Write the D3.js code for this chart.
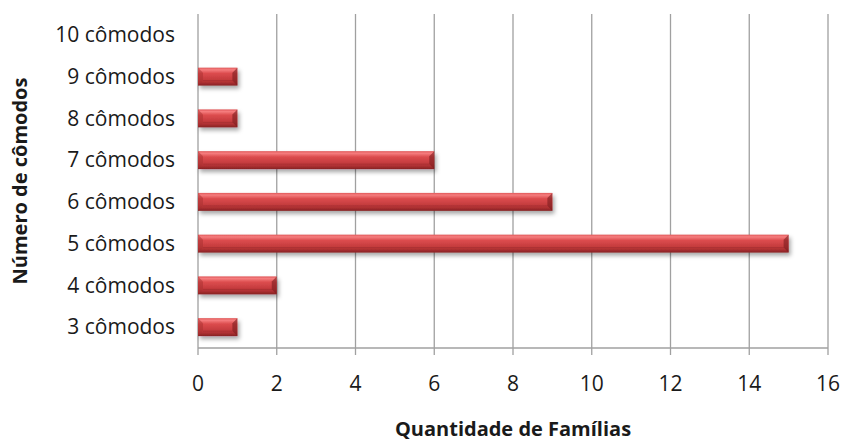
<!DOCTYPE html>
<html>
<head>
<meta charset="utf-8">
<script src="https://cdn.jsdelivr.net/npm/d3@7"></script>
<style>
  html, body { margin: 0; padding: 0; background: #fff; }
  svg { display: block; }
  text { font-family: "Open Sans", Lato, sans-serif; fill: #1a1a1a; }
</style>
</head>
<body>
<svg id="chart" width="842" height="443"></svg>
<script>
// Número de cômodos por família
const categories = ["10 cômodos", "9 cômodos", "8 cômodos", "7 cômodos", "6 cômodos", "5 cômodos", "4 cômodos", "3 cômodos"];
const values = [0, 1, 1, 6, 9, 15, 2, 1];
const xTicks = [0, 2, 4, 6, 8, 10, 12, 14, 16];
const xTitle = "Quantidade de Famílias";
const yTitle = "Número de cômodos";

const svg = d3.select("#chart");
const margin = { left: 198, right: 14, top: 14, bottom: 95 };
const W = 842, H = 443;

const x = d3.scaleLinear().domain([0, 16]).range([margin.left, W - margin.right]);
const y = d3.scaleBand().domain(categories).range([margin.top, H - margin.bottom]).paddingInner(0.57).paddingOuter(0.285);

const defs = svg.append("defs");
const grad = defs.append("linearGradient").attr("id", "barGrad").attr("x1", 0).attr("y1", 0).attr("x2", 0).attr("y2", 1);
[[0, "#e0585a"], [0.12, "#f57d7e"], [0.32, "#dc4c4e"], [0.7, "#c23a3c"], [0.85, "#a82e30"], [1, "#862224"]]
  .forEach(([o, c]) => grad.append("stop").attr("offset", o).attr("stop-color", c));
const shadow = defs.append("filter").attr("id", "shadow").attr("x", "-10%").attr("y", "-50%").attr("width", "130%").attr("height", "250%");
shadow.append("feDropShadow").attr("dx", 2).attr("dy", 3).attr("stdDeviation", 2.2).attr("flood-color", "#000").attr("flood-opacity", 0.35);

// vertical gridlines with tick marks below the axis
const grid = svg.append("g");
grid.selectAll("line").data(xTicks).join("line")
  .attr("x1", d => x(d)).attr("x2", d => x(d))
  .attr("y1", margin.top).attr("y2", H - margin.bottom + 7)
  .attr("stroke", "#a0a0a0").attr("stroke-width", 1.3);

// value axis line
svg.append("line").attr("x1", x(0)).attr("x2", x(16))
  .attr("y1", H - margin.bottom).attr("y2", H - margin.bottom)
  .attr("stroke", "#a0a0a0").attr("stroke-width", 1.3);

// bars
const bars = svg.append("g").selectAll("g").data(categories.map((c, i) => ({ c, v: values[i] })).filter(d => d.v > 0)).join("g");
const bh = y.bandwidth();
bars.append("rect")
  .attr("x", x(0)).attr("y", d => y(d.c))
  .attr("width", d => x(d.v) - x(0)).attr("height", bh)
  .attr("fill", "url(#barGrad)").attr("filter", "url(#shadow)");
// bevelled ends
const bev = 5;
bars.append("path")
  .attr("d", d => {
    const x0 = x(0), y0 = y(d.c);
    return `M${x0},${y0} L${x0 + bev},${y0 + bev} L${x0 + bev},${y0 + bh - bev} L${x0},${y0 + bh} Z`;
  })
  .attr("fill", "#a8302f").attr("opacity", 0.5);
bars.append("path")
  .attr("d", d => {
    const x1 = x(d.v), y0 = y(d.c);
    return `M${x1},${y0} L${x1 - bev},${y0 + bev} L${x1 - bev},${y0 + bh - bev} L${x1},${y0 + bh} Z`;
  })
  .attr("fill", "#7a1c1e").attr("opacity", 0.6);
bars.append("line")
  .attr("x1", x(0) + bev).attr("x2", d => x(d.v) - bev)
  .attr("y1", d => y(d.c) + bh - bev).attr("y2", d => y(d.c) + bh - bev)
  .attr("stroke", "#8e2628").attr("stroke-width", 0.8).attr("opacity", 0.5);

// category labels
svg.append("g").selectAll("text").data(categories).join("text")
  .attr("x", 175).attr("y", d => y(d) + bh / 2)
  .attr("dy", "0.35em").attr("text-anchor", "end")
  .attr("font-size", 21).text(d => d);

// value tick labels
svg.append("g").selectAll("text").data(xTicks).join("text")
  .attr("x", d => x(d)).attr("y", 384)
  .attr("dy", "0.35em").attr("text-anchor", "middle")
  .attr("font-size", 21).text(d => d);

// axis titles
svg.append("text").attr("x", x(8)).attr("y", 429).attr("dy", "0.35em")
  .attr("text-anchor", "middle").attr("font-size", 20).attr("font-weight", "bold").text(xTitle);
svg.append("text").attr("transform", `translate(20,${(margin.top + H - margin.bottom) / 2}) rotate(-90)`)
  .attr("dy", "0.35em").attr("text-anchor", "middle")
  .attr("font-size", 20).attr("font-weight", "bold").text(yTitle);
</script>
</body>
</html>
